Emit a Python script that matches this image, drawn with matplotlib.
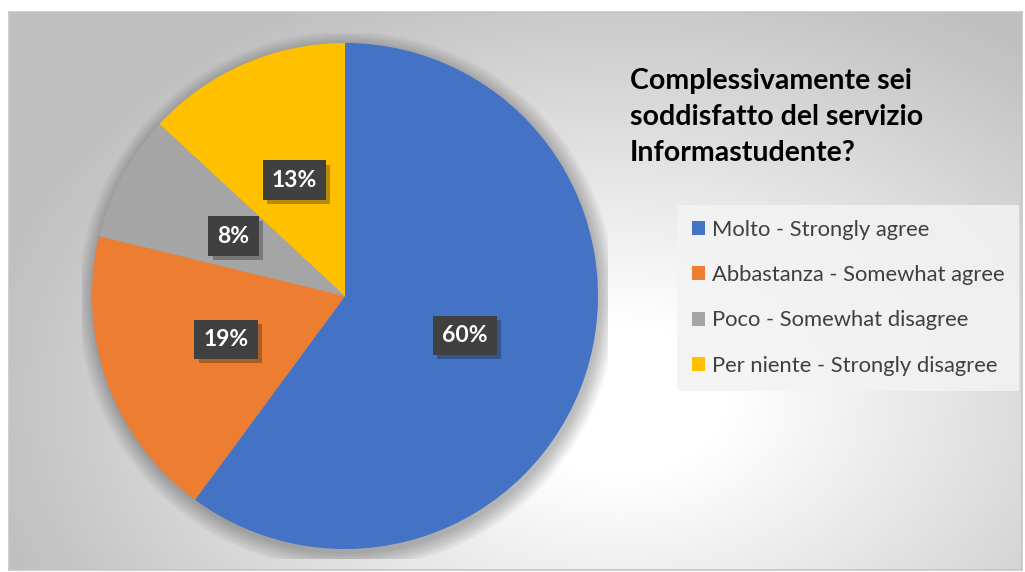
import numpy as np
import matplotlib.pyplot as plt
import matplotlib.patheffects as pe
from matplotlib.patches import Circle

W, H = 1025, 572

# data
labels = ['Molto - Strongly agree', 'Abbastanza - Somewhat agree',
          'Poco - Somewhat disagree', 'Per niente - Strongly disagree']
shares = [60.1, 18.7, 8.1, 13.1]
colors = ['#4472C4', '#ED7D31', '#A5A5A5', '#FFC000']
title = 'Complessivamente sei\nsoddisfatto del servizio\nInformastudente?'

plt.rcParams['font.family'] = ['Lato', 'DejaVu Sans']

fig = plt.figure(figsize=(W / 100, H / 100), dpi=100)


def px_axes(x0, y0, x1, y1):
    # box in pixels, y measured from the top
    return fig.add_axes([x0 / W, 1 - y1 / H, (x1 - x0) / W, (y1 - y0) / H])


# chart area with a radial grey gradient
bg = px_axes(9, 12, 1022, 570)
yy, xx = np.mgrid[12:570, 9:1022]
d = np.hypot((xx - 620) / 600.0, (yy - 400) / 420.0)
shade = 1 - 0.25 * np.clip((d - 0.18) / 0.9, 0, 1)
bg.imshow(np.dstack([shade] * 3), aspect='auto', extent=(0, 1, 0, 1))
bg.set_xticks([])
bg.set_yticks([])
for s in bg.spines.values():
    s.set_color('#C6C6C6')
    s.set_linewidth(1.2)

# pie
R = 253
half = 263
L = half / R
ax = px_axes(345 - half, 296 - half, 345 + half, 296 + half)
ax.patch.set_alpha(0)

# soft shadow round the pie
for k in range(14):
    ax.add_patch(Circle((0.008, -0.018), 1 + 0.005 * k, color='black',
                        alpha=0.02, lw=0, zorder=0))

wedges, texts, autotexts = ax.pie(
    shares, colors=colors, startangle=90, counterclock=False,
    autopct=lambda p: f'{p:.0f}%', pctdistance=0.5, radius=1,
    wedgeprops=dict(linewidth=0))
ax.set_xlim(-L, L)
ax.set_ylim(-L, L)
ax.axis('off')

for w in wedges:
    w.set_zorder(2)
for t in autotexts:
    t.set_color('white')
    t.set_fontweight('bold')
    t.set_fontsize(16.5)
    t.set_zorder(5)
    t.set_bbox(dict(boxstyle='square,pad=0.4', fc='#404040', ec='none'))
    t.get_bbox_patch().set_path_effects(
        [pe.SimplePatchShadow(offset=(3, -3), alpha=0.3), pe.Normal()])

# title
fig.text(630 / W, 1 - 68 / H, title, ha='left', va='top', fontsize=20.5,
         fontweight='bold', color='black', linespacing=1.48)

# legend
leg = fig.legend(wedges, labels, loc='upper left',
                 bbox_to_anchor=(677 / W, 1 - 205 / H), fontsize=15.8,
                 frameon=True, fancybox=False, facecolor='#F3F3F3',
                 edgecolor='none', framealpha=0.85, handlelength=0.6,
                 handleheight=0.6, handletextpad=0.3, labelspacing=1.15,
                 borderpad=0.68, borderaxespad=0, labelcolor='#404040')

fig.savefig('out.png', dpi=100)
